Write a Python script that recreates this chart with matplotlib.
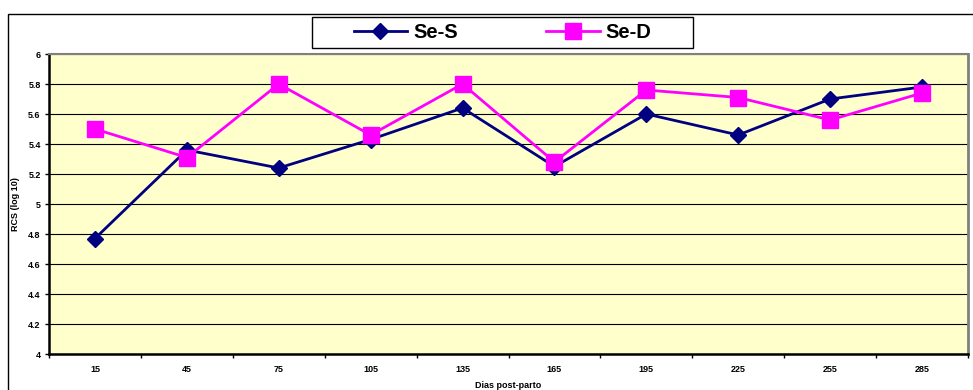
import matplotlib.pyplot as plt
import matplotlib.patches as patches
import numpy as np

# данные
dias = ['15', '45', '75', '105', '135', '165', '195', '225', '255', '285']
se_s = [4.77, 5.36, 5.24, 5.43, 5.64, 5.25, 5.60, 5.46, 5.70, 5.78]
se_d = [5.50, 5.31, 5.80, 5.46, 5.80, 5.28, 5.76, 5.71, 5.56, 5.74]

plt.rcParams['font.family'] = ['Liberation Sans', 'DejaVu Sans']

W, H = 973, 390
fig = plt.figure(figsize=(W / 100, H / 100), dpi=100)

# рамка вокруг всей диаграммы
fig.patches.append(patches.Rectangle((8 / W, -0.1), 1.0, (H - 14) / H + 0.1,
                                     transform=fig.transFigure, fill=False,
                                     edgecolor='black', linewidth=1))
# рамка легенды
fig.patches.append(patches.Rectangle((312 / W, (H - 48) / H), 381 / W, 31 / H,
                                     transform=fig.transFigure, fill=False,
                                     edgecolor='black', linewidth=1))

ax = fig.add_axes([49 / W, (H - 354) / H, (968 - 49) / W, 300 / H])
ax.set_facecolor('#FFFFCC')

x = np.arange(len(dias))
ax.plot(x, se_s, color='#000080', lw=2, marker='D', ms=8, label='Se-S', zorder=3)
ax.plot(x, se_d, color='#FF00FF', lw=2, marker='s', ms=11, label='Se-D', zorder=3)

ax.set_xlim(-0.5, len(dias) - 0.5)
ax.set_ylim(4, 6)
ax.set_yticks(np.arange(4, 6.01, 0.2))
ax.set_yticklabels(['4', '4.2', '4.4', '4.6', '4.8', '5', '5.2', '5.4', '5.6', '5.8', '6'])
ax.set_xticks(x)
ax.set_xticklabels(dias)
ax.set_xticks(np.arange(-0.5, len(dias), 1), minor=True)
ax.tick_params(axis='x', which='major', length=0, pad=8)
ax.tick_params(axis='x', which='minor', length=3, width=1, direction='out')
ax.tick_params(axis='y', length=3, width=1, direction='out', pad=3)
for lab in ax.get_xticklabels() + ax.get_yticklabels():
    lab.set_fontsize(6.5)
    lab.set_fontweight('bold')

ax.grid(axis='y', color='black', lw=0.8)
ax.set_axisbelow(True)

ax.spines['left'].set_linewidth(1.8)
ax.spines['bottom'].set_linewidth(1.8)
ax.spines['top'].set_color('#808080')
ax.spines['right'].set_color('#808080')
ax.spines['top'].set_linewidth(1.5)
ax.spines['right'].set_linewidth(2)

ax.set_xlabel('Dias post-parto', fontsize=6.5, fontweight='bold', labelpad=5)
ax.set_ylabel('RCS (log 10)', fontsize=6.5, fontweight='bold', labelpad=6)

leg = fig.legend(loc='center', ncol=2,
                 bbox_to_anchor=(502.5 / W, (H - 32.5) / H),
                 prop={'size': 14.5, 'weight': 'bold'}, handlelength=2.65,
                 handletextpad=0.3, columnspacing=4.4,
                 frameon=False, borderaxespad=0, borderpad=0)

fig.savefig('out.png', dpi=100)
